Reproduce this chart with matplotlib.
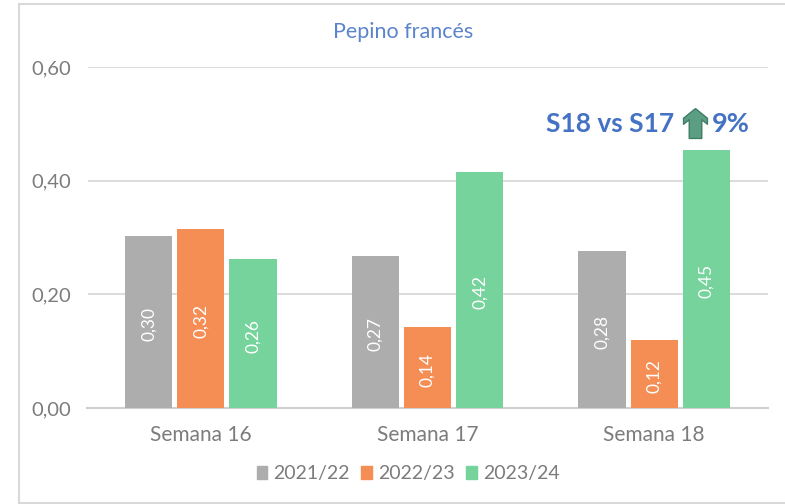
import matplotlib
matplotlib.use('Agg')
import matplotlib.pyplot as plt
from matplotlib.patches import Rectangle
from matplotlib.path import Path
import numpy as np

weeks = ['Semana 16', 'Semana 17', 'Semana 18']
seasons = ['2021/22', '2022/23', '2023/24']
s2122 = [0.303, 0.268, 0.276]
s2223 = [0.315, 0.143, 0.120]
s2324 = [0.262, 0.415, 0.454]
labels_2122 = ['0,30', '0,27', '0,28']
labels_2223 = ['0,32', '0,14', '0,12']
labels_2324 = ['0,26', '0,42', '0,45']
yticks = [0, 0.2, 0.4, 0.6]
ytick_labels = ['0,00', '0,20', '0,40', '0,60']

colors = ['#ADADAD', '#F48E55', '#75D39B']
grey = '#7C7C7C'
W, H = 785, 504

plt.rcParams['font.family'] = ['Lato', 'DejaVu Sans']
fig = plt.figure(figsize=(W / 100, H / 100), dpi=100)
ax = fig.add_axes([87.5 / W, 1 - 408 / H, 680 / W, 341 / H])

# outer frame, open on the right like the screenshot
fig.add_artist(plt.Line2D([19 / W, 19 / W], [1 - 503 / H, 1 - 4 / H], color='#D9D9D9', lw=1.5))
fig.add_artist(plt.Line2D([19 / W, 1], [1 - 4 / H, 1 - 4 / H], color='#D9D9D9', lw=1.5))
fig.add_artist(plt.Line2D([19 / W, 1], [1 - 503 / H, 1 - 503 / H], color='#D9D9D9', lw=1.5))

x = np.arange(3)
width = 0.208
step = 0.23
series = [(s2122, labels_2122), (s2223, labels_2223), (s2324, labels_2324)]
for i, (vals, labs) in enumerate(series):
    pos = x + (i - 1) * step
    ax.bar(pos, vals, width, color=colors[i], label=seasons[i], zorder=3)
    for p, v, l in zip(pos, vals, labs):
        ax.text(p, v / 2 - 0.004, l, rotation=90, ha='center', va='center', color='white', fontsize=12.5, zorder=4)

ax.set_xlim(-0.5, 2.5)
ax.set_ylim(0, 0.6)
ax.set_yticks(yticks)
ax.set_yticklabels(ytick_labels)
ax.set_xticks(x)
ax.set_xticklabels(weeks)
ax.tick_params(axis='y', length=0, labelsize=14.5, labelcolor=grey, pad=12)
ax.tick_params(axis='x', length=0, labelsize=15, labelcolor=grey, pad=12)
ax.grid(axis='y', color='#D9D9D9', lw=1.3, zorder=0)
ax.set_axisbelow(True)
for sp in ['top', 'right', 'left']:
    ax.spines[sp].set_visible(False)
ax.spines['bottom'].set_color('#D0D0D0')
ax.spines['bottom'].set_linewidth(1.5)

fig.text(403 / W, 1 - 32 / H, 'Pepino francés', ha='center', va='center', color='#5B84CC', fontsize=15.5)
fig.text(546 / W, 1 - 124 / H, 'S18 vs S17', ha='left', va='center', color='#4472C4', fontsize=19, fontweight='bold')
fig.text(712 / W, 1 - 124 / H, '9%', ha='left', va='center', color='#4472C4', fontsize=19.5, fontweight='bold')

# up arrow between the two texts
arrow = Path(np.array([[0, 1], [-0.8, 0.35], [-0.8, -0.05], [-0.42, 0.25], [-0.42, -1], [0.42, -1],
                       [0.42, 0.25], [0.8, -0.05], [0.8, 0.35], [0, 1]]))
fig.add_artist(plt.Line2D([695 / W], [1 - 123 / H], marker=arrow, markersize=21.5,
                          markerfacecolor='#5C9E84', markeredgecolor='#3F7D66', markeredgewidth=1))

handles = [Rectangle((0, 0), 1, 1, color=c) for c in colors]
fig.legend(handles, seasons, loc='center', bbox_to_anchor=(408 / W, 1 - 474 / H), ncol=3, frameon=False,
           fontsize=14, labelcolor=grey, handlelength=0.55, handleheight=0.6, handletextpad=0.3,
           columnspacing=0.6)

fig.savefig('out.png', dpi=100)
